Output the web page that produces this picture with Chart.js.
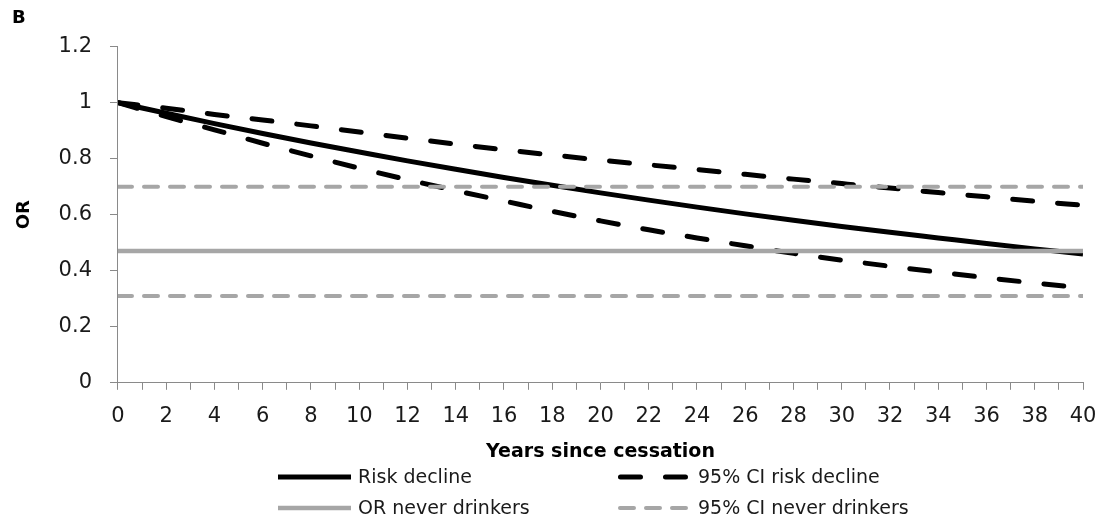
<!DOCTYPE html>
<html>
<head>
<meta charset="utf-8">
<script src="https://cdn.jsdelivr.net/npm/chart.js@4.4.1/dist/chart.umd.min.js"></script>
<style>
  html, body { margin: 0; padding: 0; background: #ffffff; }
  #wrap { width: 1099px; height: 519px; }
</style>
</head>
<body>
<div id="wrap"><canvas id="chart" width="1099" height="519"></canvas></div>
<script>
// Years since cessation at which the curves are given
const years = [0, 2, 4, 6, 8, 10, 12, 14, 16, 18, 20, 22, 24, 26, 28, 30, 32, 34, 36, 38, 40];

// Odds ratio of former drinkers by years since cessation
const riskDecline = [1.00, 0.962, 0.925, 0.890, 0.856, 0.824, 0.792, 0.762, 0.733, 0.705, 0.678,
                     0.652, 0.627, 0.603, 0.580, 0.558, 0.537, 0.517, 0.497, 0.478, 0.460];
const ciRiskUpper = [1.00, 0.980, 0.958, 0.938, 0.917, 0.895, 0.873, 0.852, 0.832, 0.813, 0.795,
                     0.778, 0.761, 0.744, 0.727, 0.711, 0.695, 0.679, 0.664, 0.648, 0.634];
const ciRiskLower = [1.00, 0.950, 0.903, 0.855, 0.810, 0.766, 0.725, 0.686, 0.649, 0.612, 0.578,
                     0.546, 0.517, 0.489, 0.462, 0.438, 0.416, 0.395, 0.375, 0.356, 0.338];

// Reference level for never drinkers (constant over the whole range)
const neverRange = [0, 40];
const orNever = [0.47, 0.47];
const ciNeverUpper = [0.70, 0.70];
const ciNeverLower = [0.31, 0.31];

// Axis ticks
const xTickLabels = [0, 2, 4, 6, 8, 10, 12, 14, 16, 18, 20, 22, 24, 26, 28, 30, 32, 34, 36, 38, 40];
const xMinorTicks = [0, 1, 2, 3, 4, 5, 6, 7, 8, 9, 10, 11, 12, 13, 14, 15, 16, 17, 18, 19, 20,
                     21, 22, 23, 24, 25, 26, 27, 28, 29, 30, 31, 32, 33, 34, 35, 36, 37, 38, 39, 40];
const yTickValues = [0, 0.2, 0.4, 0.6, 0.8, 1.0, 1.2];
const yTickLabels = ['0', '0.2', '0.4', '0.6', '0.8', '1', '1.2'];

// Legend entries in a 2 x 2 grid (row, column)
const legendItems = [
  { text: 'Risk decline',          dataset: 3, row: 0, col: 0 },
  { text: '95% CI risk decline',   dataset: 4, row: 0, col: 1 },
  { text: 'OR never drinkers',     dataset: 0, row: 1, col: 0 },
  { text: '95% CI never drinkers', dataset: 1, row: 1, col: 1 }
];

const FONT = "'DejaVu Sans', Verdana, sans-serif";
const AXIS = '#8a8a8a';
const GRAY = '#a6a6a6';
const TEXT = '#1a1a1a';

const toPoints = (xs, ys) => xs.map((x, i) => ({ x: x, y: ys[i] }));

const blackDash = [20, 25];
const grayDash = [14, 12];

const datasets = [
  { label: 'OR never drinkers', data: toPoints(neverRange, orNever),
    borderColor: GRAY, borderWidth: 4.5, order: 0 },
  { label: '95% CI never drinkers', data: toPoints(neverRange, ciNeverUpper),
    borderColor: GRAY, borderWidth: 4, borderDash: grayDash, borderCapStyle: 'round', order: 0 },
  { label: '95% CI never drinkers', data: toPoints(neverRange, ciNeverLower),
    borderColor: GRAY, borderWidth: 4, borderDash: grayDash, borderCapStyle: 'round', order: 0 },
  { label: 'Risk decline', data: toPoints(years, riskDecline),
    borderColor: '#000000', borderWidth: 5, cubicInterpolationMode: 'monotone', order: 1 },
  { label: '95% CI risk decline', data: toPoints(years, ciRiskUpper),
    borderColor: '#000000', borderWidth: 5, borderDash: blackDash, borderCapStyle: 'round',
    cubicInterpolationMode: 'monotone', order: 1 },
  { label: '95% CI risk decline', data: toPoints(years, ciRiskLower),
    borderColor: '#000000', borderWidth: 5, borderDash: blackDash, borderCapStyle: 'round',
    cubicInterpolationMode: 'monotone', order: 1 }
];

// Draws the legend below the axis title as a two-column grid
const gridLegend = {
  id: 'gridLegend',
  afterDraw(chart) {
    const ctx = chart.ctx;
    const area = chart.chartArea;
    const colX = [area.left + 160, area.left + 500];
    const rowY = [chart.height - 42, chart.height - 11];
    const sampleLen = 73;
    ctx.save();
    ctx.font = '19px ' + FONT;
    ctx.textBaseline = 'middle';
    ctx.textAlign = 'left';
    legendItems.forEach(item => {
      const ds = chart.data.datasets[item.dataset];
      const x = colX[item.col];
      const y = rowY[item.row];
      ctx.strokeStyle = ds.borderColor;
      ctx.lineWidth = ds.borderWidth;
      ctx.lineCap = ds.borderCapStyle || 'butt';
      ctx.setLineDash(ds.borderDash || []);
      const inset = ds.borderDash ? ds.borderWidth / 2 : 0;
      ctx.beginPath();
      ctx.moveTo(x + inset, y);
      ctx.lineTo(x + sampleLen - inset, y);
      ctx.stroke();
      ctx.setLineDash([]);
      ctx.fillStyle = TEXT;
      ctx.fillText(item.text, x + sampleLen + 7, y + 1);
    });
    ctx.restore();
  }
};

new Chart(document.getElementById('chart'), {
  type: 'line',
  data: { datasets: datasets },
  plugins: [gridLegend],
  options: {
    responsive: false,
    devicePixelRatio: 1,
    animation: false,
    elements: { point: { radius: 0, hoverRadius: 0 } },
    layout: { padding: { left: 12, right: 16, top: 0, bottom: 53 } },
    plugins: {
      legend: { display: false },
      tooltip: { enabled: false },
      title: {
        display: true, text: 'B', align: 'start', color: '#000000',
        font: { family: FONT, size: 18, weight: 'bold' },
        padding: { top: 8, bottom: 17 }
      }
    },
    scales: {
      x: {
        type: 'linear', min: 0, max: 40,
        afterBuildTicks: scale => { scale.ticks = xMinorTicks.map(v => ({ value: v })); },
        // end labels may hang into the side margins
        afterFit: scale => { scale.paddingLeft = 0; scale.paddingRight = 0; },
        ticks: {
          autoSkip: false, maxRotation: 0, minRotation: 0, padding: 14, color: TEXT,
          font: { family: FONT, size: 21 },
          callback: v => (xTickLabels.includes(v) ? String(v) : '')
        },
        grid: { display: true, drawOnChartArea: false, drawTicks: true, tickLength: 7, color: AXIS, lineWidth: 1 },
        border: { display: true, color: AXIS, width: 1 },
        title: {
          display: true, text: 'Years since cessation', color: '#000000',
          font: { family: FONT, size: 19, weight: 'bold', lineHeight: 1.0 },
          padding: { top: 0, bottom: 4 }
        }
      },
      y: {
        type: 'linear', min: 0, max: 1.2,
        afterBuildTicks: scale => { scale.ticks = yTickValues.map(v => ({ value: v })); },
        ticks: {
          padding: 18, color: TEXT,
          font: { family: FONT, size: 21 },
          callback: (v, i) => yTickLabels[i]
        },
        grid: { display: true, drawOnChartArea: false, drawTicks: true, tickLength: 8, color: AXIS, lineWidth: 1 },
        border: { display: true, color: AXIS, width: 1 },
        title: {
          display: true, text: 'OR', color: '#000000',
          font: { family: FONT, size: 18, weight: 'bold' },
          padding: { top: 2, bottom: 5 }
        }
      }
    }
  }
});
</script>
</body>
</html>
